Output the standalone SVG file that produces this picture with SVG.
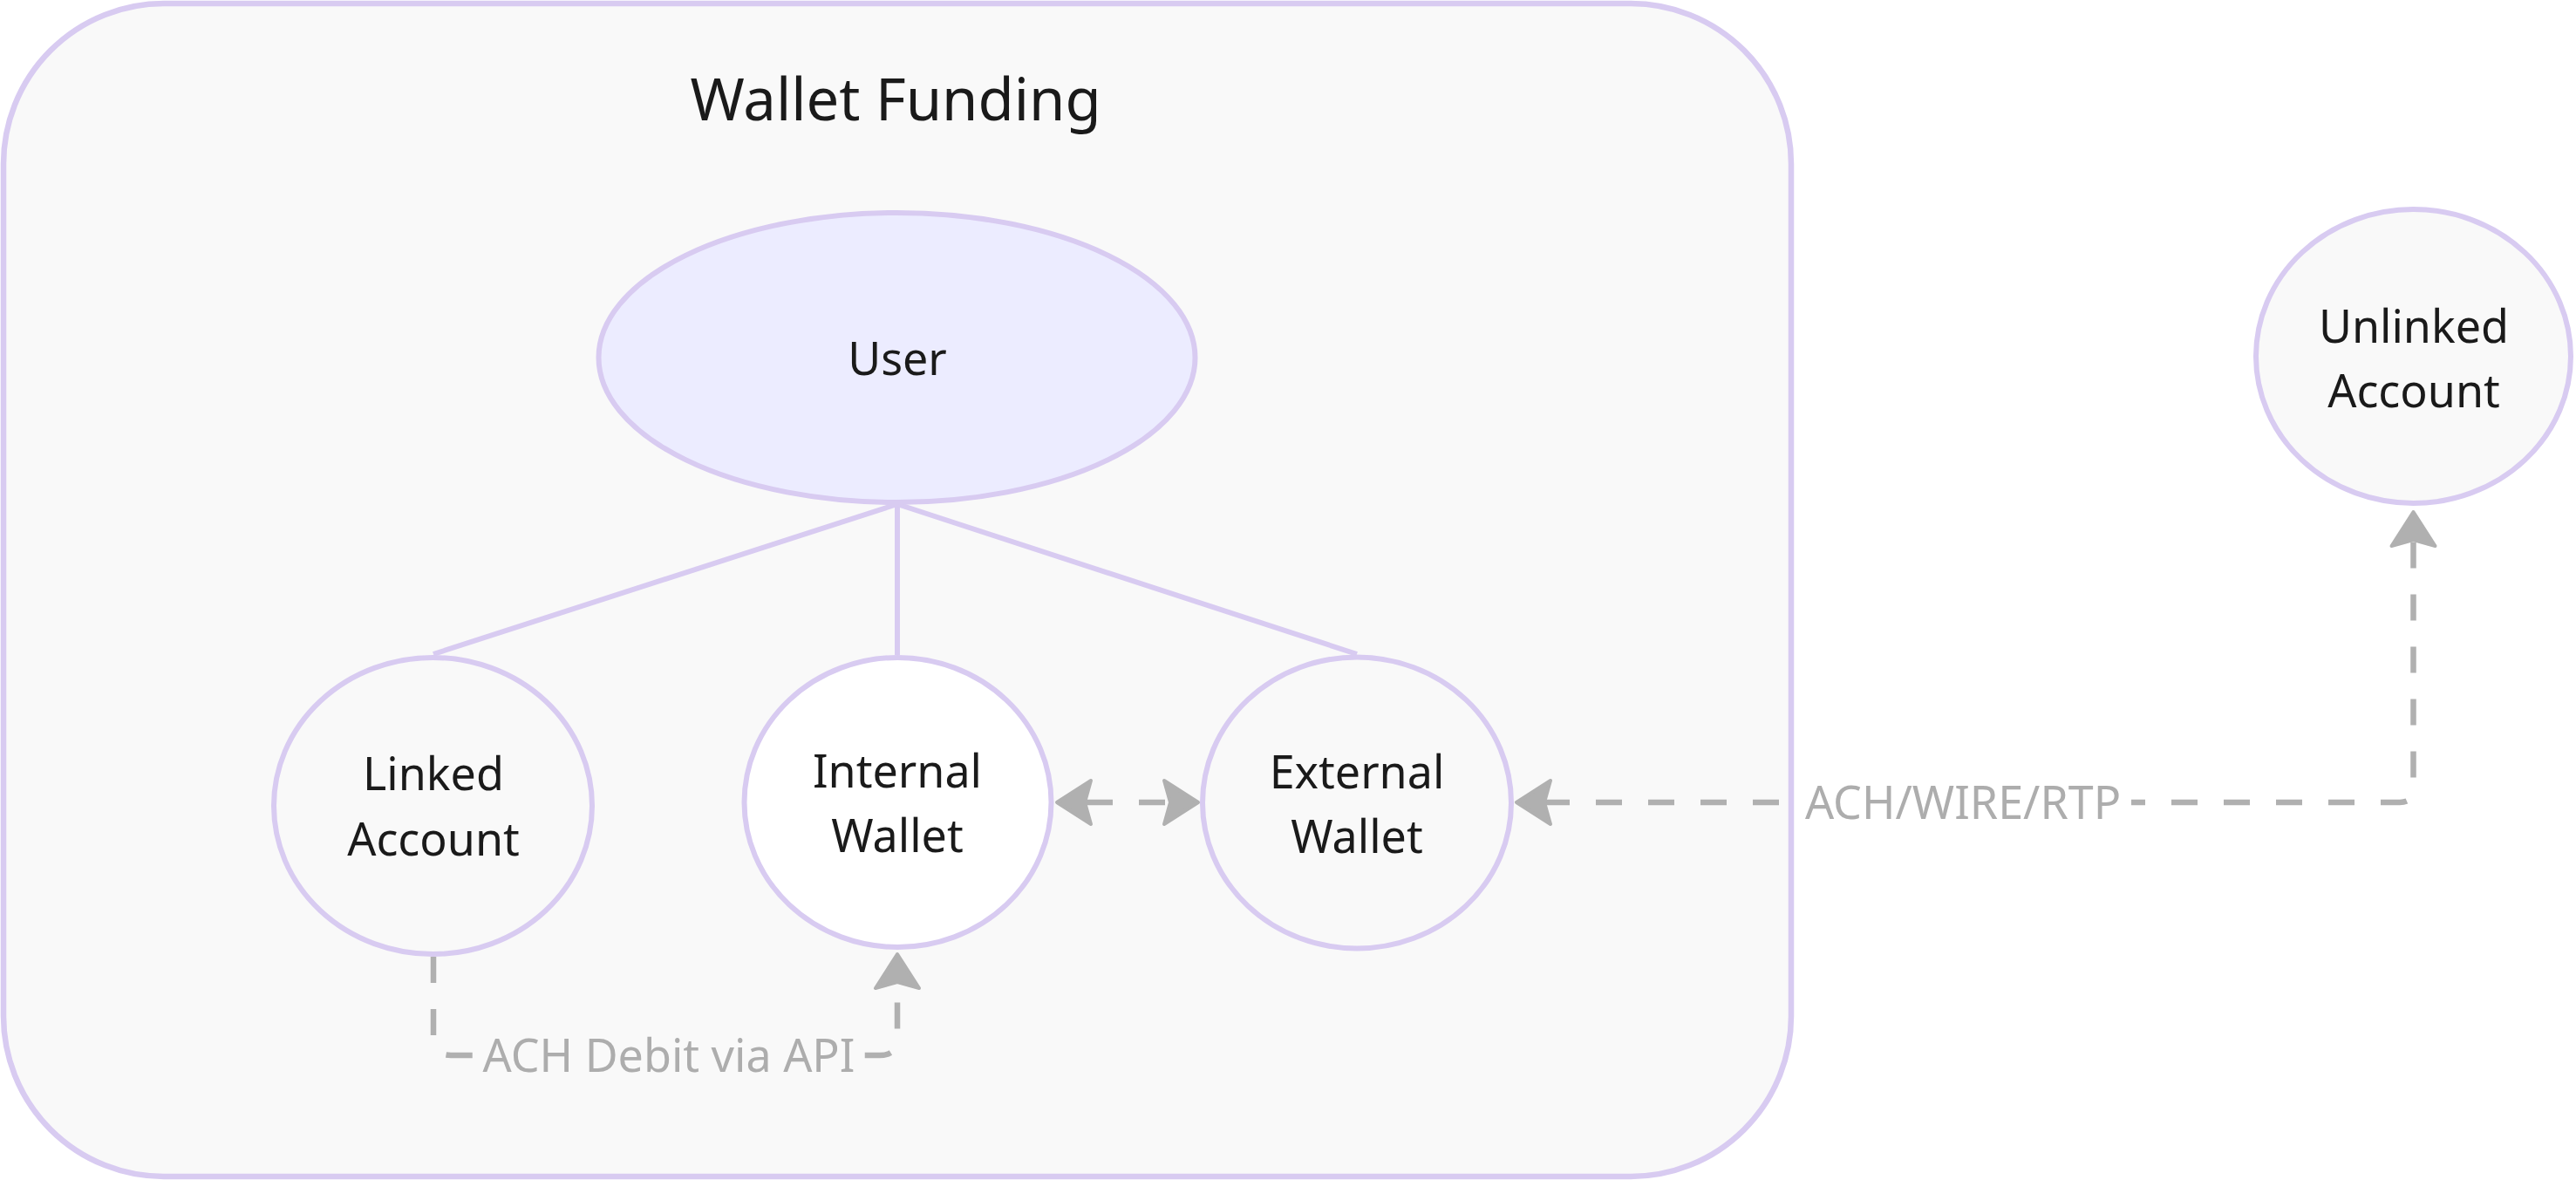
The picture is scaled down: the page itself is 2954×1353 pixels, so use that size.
<svg xmlns="http://www.w3.org/2000/svg" width="2954" height="1353" viewBox="0 0 2954 1353">
  <defs>
    <style>
      .cluster { fill: #f9f9f9; stroke: #d8cbf1; stroke-width: 6.5; }
      .title { font-family: "Noto Sans", "Open Sans", sans-serif; font-size: 67px; fill: #1a1a1a; text-anchor: middle; }
      .node { stroke: #d8cbf1; stroke-width: 6; }
      .label { font-family: "Noto Sans", "Open Sans", sans-serif; font-size: 52px; fill: #1a1a1a; text-anchor: middle; }
      .link { fill: none; stroke: #d8cbf1; stroke-width: 6; }
      .dashed { fill: none; stroke: #b0b0b0; stroke-width: 6.5; stroke-dasharray: 30 30; }
      .elabel { font-family: "Noto Sans", "Open Sans", sans-serif; font-size: 52px; fill: #adadad; text-anchor: middle; }
      .arrowhead { fill: #b0b0b0; stroke: #b0b0b0; stroke-width: 4; stroke-linejoin: round; stroke-dasharray: none; }
    </style>
    <marker id="arrow" markerUnits="userSpaceOnUse" viewBox="-20 -40 80 80" refX="0" refY="0" markerWidth="80" markerHeight="80" orient="auto-start-reverse">
      <path class="arrowhead" d="M34,0 L-5,-25 L2,0 L-5,25 Z"/>
    </marker>
  </defs>

  <rect x="0" y="0" width="2954" height="1353" fill="#ffffff"/>

  <g id="cluster-wallet-funding">
    <rect class="cluster" x="4" y="4" width="2050" height="1345" rx="184" ry="184"/>
    <text class="title" x="1027" y="138">Wallet Funding</text>
  </g>

  <g id="connectors">
    <line class="link" x1="1029" y1="578" x2="497" y2="750"/>
    <line class="link" x1="1029" y1="578" x2="1029" y2="751"/>
    <line class="link" x1="1029" y1="578" x2="1556" y2="750"/>

    <path class="dashed" d="M1246,920 L1340,920" marker-start="url(#arrow)" marker-end="url(#arrow)"/>

    <path class="dashed" d="M497,1097 L497,1190 Q497,1210 517,1210 L1009,1210 Q1029,1210 1029,1190 L1029,1128" marker-end="url(#arrow)"/>

    <path class="dashed" style="stroke-dashoffset:3" d="M1773,920 L2752,920 Q2767.5,920 2767.5,904.5 L2767.5,621" marker-start="url(#arrow)" marker-end="url(#arrow)"/>

    <g id="label-ach-debit">
      <rect x="546" y="1182" width="444" height="58" fill="#f9f9f9"/>
      <text class="elabel" x="767" y="1229">ACH Debit via API</text>
    </g>
    <g id="label-ach-wire-rtp">
      <rect x="2060" y="892" width="384" height="56" fill="#ffffff"/>
      <text class="elabel" x="2251" y="939">ACH/WIRE/RTP</text>
    </g>
  </g>

  <g id="node-user">
    <ellipse class="node" cx="1028.5" cy="410" rx="342" ry="166" fill="#ececff"/>
    <text class="label" x="1029" y="430">User</text>
  </g>

  <g id="node-linked-account">
    <ellipse class="node" cx="496.5" cy="924" rx="182.5" ry="170" fill="#f9f9f9"/>
    <text class="label" x="497" y="906">Linked</text>
    <text class="label" x="497" y="981">Account</text>
  </g>

  <g id="node-internal-wallet">
    <ellipse class="node" cx="1029.5" cy="920" rx="176" ry="166" fill="#ffffff"/>
    <text class="label" x="1029" y="903">Internal</text>
    <text class="label" x="1029" y="977">Wallet</text>
  </g>

  <g id="node-external-wallet">
    <ellipse class="node" cx="1556" cy="920.5" rx="177" ry="167" fill="#f9f9f9"/>
    <text class="label" x="1556" y="904">External</text>
    <text class="label" x="1556" y="978">Wallet</text>
  </g>

  <g id="node-unlinked-account">
    <ellipse class="node" cx="2767.5" cy="408.5" rx="180.5" ry="168.5" fill="#f9f9f9"/>
    <text class="label" x="2768" y="393">Unlinked</text>
    <text class="label" x="2768" y="467">Account</text>
  </g>
</svg>
